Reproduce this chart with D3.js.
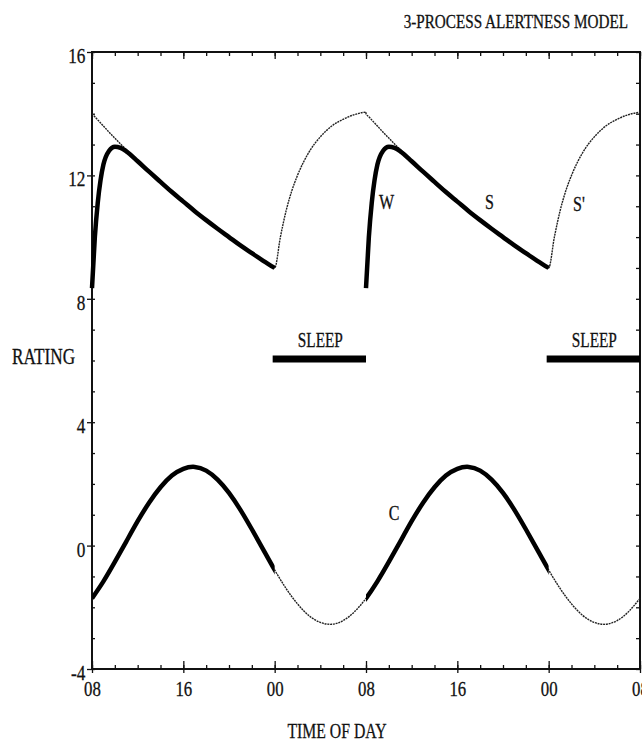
<!DOCTYPE html>
<html>
<head>
<meta charset="utf-8">
<script src="https://cdn.jsdelivr.net/npm/d3@7"></script>
<style>
body { margin: 0; background: #fff; }
svg text { font-family: "Liberation Serif", "Times New Roman", serif; fill: #111; stroke: #111; stroke-width: 0.3px; }
</style>
</head>
<body>
<svg id="chart"></svg>
<script>
// time axis: hours counted from 08:00 of the first day
var hourTicks = [0, 8, 16, 24, 32, 40, 48];
var hourLabels = ["08", "16", "00", "08", "16", "00", "08"];
var ratingTicks = [16, 12, 8, 4, 0, -4];

var dayStarts = [0, 24];      // wake up
var sleepStarts = [16, 40];   // to bed at 00
var sleepEnds = [24, 48];
var sleepLevel = 6;

// process S while awake, and W (sleep inertia) that is added on top of it
var wakeHours = [0, 0.25, 0.5, 0.75, 1, 1.5, 2, 2.5, 3, 4, 5, 6, 7, 8, 9, 10, 11, 12, 13, 14, 15, 16];
var sWake = [14.0, 13.9, 13.8, 13.7, 13.6, 13.4, 13.21, 13.02, 12.84, 12.47, 12.12, 11.79, 11.46, 11.15, 10.84, 10.55, 10.27, 10.0, 9.73, 9.48, 9.23, 9.0];
var wWake = [-5.65, -3.9, -2.7, -1.85, -1.25, -0.6, -0.28, -0.13, -0.06, -0.01, 0, 0, 0, 0, 0, 0, 0, 0, 0, 0, 0, 0];

// process S' recovering during sleep (hours after 00)
var sleepHours = [0, 0.5, 1, 1.5, 2, 3, 4, 5, 6, 7, 8];
var sSleep = [9.0, 10.0, 10.85, 11.5, 12.0, 12.75, 13.25, 13.6, 13.82, 13.97, 14.05];

// process C, one value per hour from 08:00
var cValues = [-1.71, -1.16, -0.53, 0.13, 0.79, 1.39, 1.89, 2.27, 2.49, 2.55, 2.43, 2.14,
    1.71, 1.16, 0.53, -0.13, -0.79, -1.39, -1.89, -2.27, -2.49, -2.55, -2.43, -2.14,
    -1.71, -1.16, -0.53, 0.13, 0.79, 1.39, 1.89, 2.27, 2.49, 2.55, 2.43, 2.14,
    1.71, 1.16, 0.53, -0.13, -0.79, -1.39, -1.89, -2.27, -2.49, -2.55, -2.43, -2.14, -1.71];

var width = 642, height = 742;
var svg = d3.select("#chart").attr("width", width).attr("height", height);

var x = d3.scaleLinear().domain([0, 48]).range([92, 640]);
var y = d3.scaleLinear().domain([-4, 16]).range([669, 52]);

function addText(txt, px, py, size, sx, anchor) {
    return svg.append("text")
        .attr("transform", "translate(" + px + "," + py + ") scale(" + sx + ",1)")
        .attr("text-anchor", anchor || "start")
        .style("font-size", size + "px")
        .text(txt);
}

function styleAxis(g) {
    g.select(".domain").remove();
    g.selectAll("line").attr("stroke", "#111").attr("stroke-width", 1.3);
}

// frame
svg.append("rect")
    .attr("x", x(0)).attr("y", y(16))
    .attr("width", x(48) - x(0)).attr("height", y(-4) - y(16))
    .attr("fill", "none").attr("stroke", "#111").attr("stroke-width", 2);

// bottom axis: inward minor / major ticks, labels below
svg.append("g").attr("transform", "translate(0," + y(-4) + ")")
    .call(d3.axisTop(x).tickValues(d3.range(0, 49, 2)).tickSize(4).tickFormat(""))
    .call(styleAxis);
svg.append("g").attr("transform", "translate(0," + y(-4) + ")")
    .call(d3.axisTop(x).tickValues(hourTicks).tickSize(8).tickFormat(""))
    .call(styleAxis);
var xAx = svg.append("g").attr("transform", "translate(0," + y(-4) + ")")
    .call(d3.axisBottom(x).tickValues(hourTicks).tickSize(4).tickPadding(8)
        .tickFormat(function (d, i) { return hourLabels[i]; }))
    .call(styleAxis);
xAx.selectAll("text")
    .attr("transform", "scale(0.8,1)")
    .style("font-size", "21px").attr("font-family", "Liberation Serif").attr("fill", "#111");

// top axis
svg.append("g").attr("transform", "translate(0," + y(16) + ")")
    .call(d3.axisBottom(x).tickValues(d3.range(0, 49, 2)).tickSize(4).tickFormat(""))
    .call(styleAxis);
svg.append("g").attr("transform", "translate(0," + y(16) + ")")
    .call(d3.axisBottom(x).tickValues(hourTicks).tickSize(7).tickFormat(""))
    .call(styleAxis);

// left axis
var yAx = svg.append("g").attr("transform", "translate(" + x(0) + ",0)")
    .call(d3.axisLeft(y).tickValues(ratingTicks).tickSize(5).tickPadding(3)
        .tickFormat(function (d) { return String(d); }))
    .call(styleAxis);
yAx.selectAll("text")
    .attr("transform", "scale(0.82,1)").attr("dy", "0.5em")
    .style("font-size", "21px").attr("font-family", "Liberation Serif").attr("fill", "#111");
svg.append("g").attr("transform", "translate(" + x(0) + ",0)")
    .call(d3.axisRight(y).tickValues(d3.range(-4, 17, 1)).tickSize(3).tickFormat(""))
    .call(styleAxis);

// right axis
svg.append("g").attr("transform", "translate(" + x(48) + ",0)")
    .call(d3.axisLeft(y).tickValues(d3.range(-4, 17, 1)).tickSize(4).tickFormat(""))
    .call(styleAxis);

// series points
var sPoints = [];
var swPoints = [];
dayStarts.forEach(function (d, k) {
    var day = [];
    wakeHours.forEach(function (h, i) {
        sPoints.push({t: d + h, v: sWake[i]});
        day.push({t: d + h, v: sWake[i] + wWake[i]});
    });
    sleepHours.forEach(function (h, i) {
        if (h > 0) sPoints.push({t: sleepStarts[k] + h, v: sSleep[i]});
    });
    swPoints.push(day);
});
var cPoints = cValues.map(function (v, i) { return {t: i, v: v}; });

var line = d3.line()
    .x(function (d) { return x(d.t); })
    .y(function (d) { return y(d.v); });

// clip for the waking parts of C
var clip = svg.append("clipPath").attr("id", "wake");
dayStarts.forEach(function (d, k) {
    clip.append("rect")
        .attr("x", x(d)).attr("y", 0)
        .attr("width", x(sleepStarts[k]) - x(d)).attr("height", height);
});

// thin lines
svg.append("path").datum(sPoints)
    .attr("d", line.curve(d3.curveMonotoneX))
    .attr("fill", "none").attr("stroke", "#222")
    .attr("stroke-width", 1.4).attr("stroke-dasharray", "2,0.8");
svg.append("path").datum(cPoints)
    .attr("d", line.curve(d3.curveNatural))
    .attr("fill", "none").attr("stroke", "#222")
    .attr("stroke-width", 1.4).attr("stroke-dasharray", "2,0.8");

// bold lines
swPoints.forEach(function (day) {
    svg.append("path").datum(day)
        .attr("d", line.curve(d3.curveMonotoneX))
        .attr("fill", "none").attr("stroke", "#000")
        .attr("stroke-width", 4.5).attr("stroke-linejoin", "round");
});
svg.append("path").datum(cPoints)
    .attr("d", line.curve(d3.curveNatural))
    .attr("clip-path", "url(#wake)")
    .attr("fill", "none").attr("stroke", "#000")
    .attr("stroke-width", 4.5);

// sleep bars
sleepStarts.forEach(function (s, k) {
    svg.append("rect")
        .attr("x", x(s) - 2).attr("y", y(sleepLevel) - 5)
        .attr("width", x(sleepEnds[k]) - x(s) + 2).attr("height", 7)
        .attr("fill", "#000");
    addText("SLEEP", (x(s) + x(sleepEnds[k])) / 2, y(sleepLevel) - 14, 21, 0.73, "middle");
});

// curve labels
addText("W", x(25.14), y(10.9), 20, 0.8);
addText("S", x(34.42), y(10.9), 20, 0.8);
addText("S'", x(42.13), y(10.83), 20, 0.8);
addText("C", x(26.0), y(0.82), 20, 0.8);

// titles
addText("3-PROCESS ALERTNESS MODEL", 628, 28, 19, 0.8, "end");
addText("RATING", 12, 364, 23, 0.75);
addText("TIME OF DAY", 337, 738, 21, 0.75, "middle");
</script>
</body>
</html>
